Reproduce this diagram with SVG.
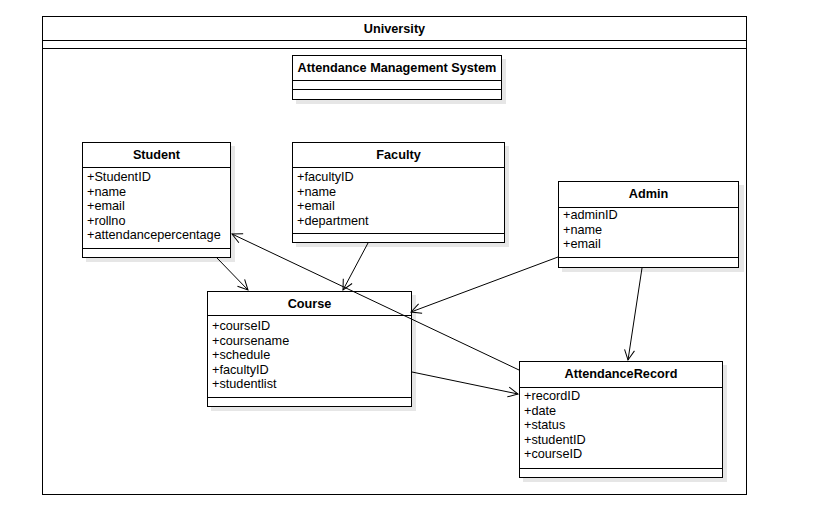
<svg xmlns="http://www.w3.org/2000/svg" width="813" height="512" viewBox="0 0 813 512">
<style>
.box{fill:#ffffff;stroke:#000000;stroke-width:1}
.sh{fill:#e6e6e6}
.sep{stroke:#000000;stroke-width:1}
.t{font-family:"Liberation Sans",Arial,sans-serif;font-size:12.7px;fill:#000000;font-weight:bold;text-anchor:middle}
.a{font-family:"Liberation Sans",Arial,sans-serif;font-size:12.7px;fill:#000000}
.c{stroke:#000000;stroke-width:1;fill:none;marker-end:url(#open)}
</style>
<defs>
<marker id="open" markerUnits="userSpaceOnUse" markerWidth="14" markerHeight="12" refX="11" refY="5" orient="auto" overflow="visible">
<path d="M1,0 L11,5 L1,10" fill="none" stroke="#000000" stroke-width="1"/>
</marker>
</defs>
<rect width="813" height="512" fill="#ffffff"/>
<g id="university">
<rect class="box" x="42.5" y="16.5" width="704" height="478"/>
<line class="sep" x1="42.5" y1="40.5" x2="746.5" y2="40.5"/>
<line class="sep" x1="42.5" y1="48.5" x2="746.5" y2="48.5"/>
<text class="t" x="394.5" y="33">University</text>
</g>
<g id="ams">
<rect class="sh" x="296" y="59" width="210" height="45"/>
<rect class="box" x="292.5" y="55.5" width="209" height="44"/>
<line class="sep" x1="292.5" y1="80.5" x2="501.5" y2="80.5"/>
<line class="sep" x1="292.5" y1="89.5" x2="501.5" y2="89.5"/>
<text class="t" x="397" y="72">Attendance Management System</text>
</g>
<g id="student">
<rect class="sh" x="86" y="146" width="149" height="116"/>
<rect class="box" x="82.5" y="142.5" width="148" height="115"/>
<line class="sep" x1="82.5" y1="167.5" x2="230.5" y2="167.5"/>
<line class="sep" x1="82.5" y1="248.5" x2="230.5" y2="248.5"/>
<text class="t" x="156.5" y="159">Student</text>
<text class="a" x="87" y="181">+StudentID</text>
<text class="a" x="87" y="195.5">+name</text>
<text class="a" x="87" y="210">+email</text>
<text class="a" x="87" y="224.5">+rollno</text>
<text class="a" x="87" y="239">+attendancepercentage</text>
</g>
<g id="faculty">
<rect class="sh" x="296" y="146" width="213" height="101"/>
<rect class="box" x="292.5" y="142.5" width="212" height="100"/>
<line class="sep" x1="292.5" y1="167.5" x2="504.5" y2="167.5"/>
<line class="sep" x1="292.5" y1="233.5" x2="504.5" y2="233.5"/>
<text class="t" x="398.5" y="159">Faculty</text>
<text class="a" x="297" y="181">+facultyID</text>
<text class="a" x="297" y="195.5">+name</text>
<text class="a" x="297" y="210">+email</text>
<text class="a" x="297" y="224.5">+department</text>
</g>
<g id="admin">
<rect class="sh" x="562" y="185" width="182" height="87"/>
<rect class="box" x="558.5" y="181.5" width="180" height="86"/>
<line class="sep" x1="558.5" y1="207.5" x2="738.5" y2="207.5"/>
<line class="sep" x1="558.5" y1="257.5" x2="738.5" y2="257.5"/>
<text class="t" x="648.5" y="198">Admin</text>
<text class="a" x="563" y="219">+adminID</text>
<text class="a" x="563" y="233.5">+name</text>
<text class="a" x="563" y="248">+email</text>
</g>
<g id="course">
<rect class="sh" x="211" y="295" width="205" height="116"/>
<rect class="box" x="207.5" y="291.5" width="204" height="115"/>
<line class="sep" x1="207.5" y1="315.5" x2="411.5" y2="315.5"/>
<line class="sep" x1="207.5" y1="397.5" x2="411.5" y2="397.5"/>
<text class="t" x="309.5" y="307.5">Course</text>
<text class="a" x="212" y="330">+courseID</text>
<text class="a" x="212" y="344.5">+coursename</text>
<text class="a" x="212" y="359">+schedule</text>
<text class="a" x="212" y="373.5">+facultyID</text>
<text class="a" x="212" y="388">+studentlist</text>
</g>
<g id="attendancerecord">
<rect class="sh" x="523" y="365" width="204" height="117"/>
<rect class="box" x="519.5" y="361.5" width="203" height="116"/>
<line class="sep" x1="519.5" y1="387.5" x2="722.5" y2="387.5"/>
<line class="sep" x1="519.5" y1="468.5" x2="722.5" y2="468.5"/>
<text class="t" x="621" y="378">AttendanceRecord</text>
<text class="a" x="524" y="400">+recordID</text>
<text class="a" x="524" y="414.5">+date</text>
<text class="a" x="524" y="429">+status</text>
<text class="a" x="524" y="443.5">+studentID</text>
<text class="a" x="524" y="458">+courseID</text>
</g>
<g id="connectors">
<line class="c" x1="217" y1="258" x2="248" y2="290"/>
<line class="c" x1="368" y1="243" x2="343" y2="290"/>
<line class="c" x1="558" y1="257" x2="411" y2="312"/>
<line class="c" x1="519" y1="370" x2="232" y2="234"/>
<line class="c" x1="412" y1="372" x2="518" y2="394"/>
<line class="c" x1="642" y1="268" x2="628" y2="360"/>
</g>
</svg>
